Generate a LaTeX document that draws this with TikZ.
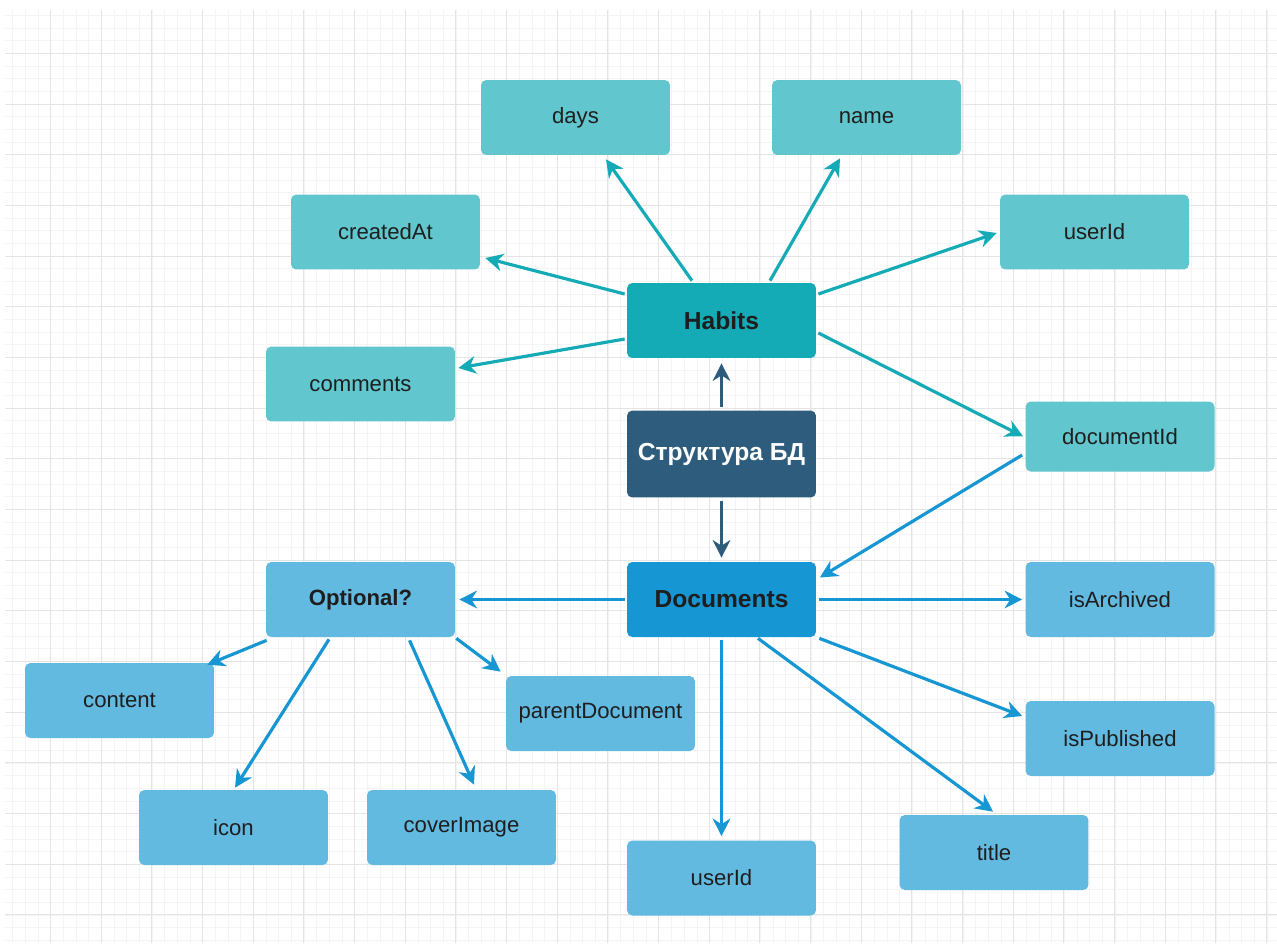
\documentclass[tikz,border=0pt]{standalone}
\usepackage{fontspec}
\setmainfont{Liberation Sans}
\usepackage{xcolor}
\usepackage{tikz}
\usetikzlibrary{calc,arrows.meta}
\definecolor{habteal}{RGB}{20,170,182}
\definecolor{attrteal}{RGB}{98,198,206}
\definecolor{docblue}{RGB}{22,150,210}
\definecolor{attrblue}{RGB}{99,186,225}
\definecolor{rootnavy}{RGB}{46,92,124}
\definecolor{textdark}{RGB}{30,30,30}
\definecolor{gridlight}{RGB}{244,244,244}
\definecolor{gridmid}{RGB}{228,228,228}

\begin{document}
\begin{tikzpicture}[
		x=0.02cm,
		y=-0.02cm,
		font=\fontsize{12.6}{15}\selectfont,
		card/.style={
			rounded corners=3pt,
			draw=none,
			align=center,
			inner sep=0pt,
			minimum width=3.78cm,
			minimum height=1.5cm,
			text=textdark
		},
		habbox/.style={card, fill=habteal, font=\bfseries\fontsize{14}{16}\selectfont},
		habattr/.style={card, fill=attrteal},
		docbox/.style={card, fill=docblue, font=\bfseries\fontsize{14}{16}\selectfont},
		docattr/.style={card, fill=attrblue},
		rootbox/.style={card, fill=rootnavy, text=white, minimum height=1.74cm, font=\bfseries\fontsize{14}{16}\selectfont},
		tip/.style={-{Stealth[length=10pt,width=10pt,inset=3.2pt]}, line width=1.8pt},
		habarrow/.style={tip, draw=habteal},
		docarrow/.style={tip, draw=docblue},
		rootarrow/.style={tip, draw=rootnavy},
		gridminor/.style={draw=gridlight, line width=0.57pt},
		gridmajor/.style={draw=gridmid, line width=0.57pt}
	]
	
	% Canvas
	\fill[white] (0,0) rectangle (1277,943);
	\path[use as bounding box] (0,0) rectangle (1277,943);
	
	% Grid
	\foreach \i in {0,...,99}{
		\draw[gridminor] ({round(12.33+12.67*\i)+0.5},10) -- ({round(12.33+12.67*\i)+0.5},943);
	}
	\foreach \j in {0,...,73}{
		\draw[gridminor] (5,{round(15+12.67*\j)+0.5}) -- (1277,{round(15+12.67*\j)+0.5});
	}
	\foreach \i in {0,...,24}{
		\draw[gridmajor] ({round(50+50.67*\i)+0.5},10) -- ({round(50+50.67*\i)+0.5},943);
	}
	\foreach \j in {0,...,17}{
		\draw[gridmajor] (5,{round(53+50.67*\j)+0.5}) -- (1277,{round(53+50.67*\j)+0.5});
	}
	
	% Root
	\node[rootbox] (root) at (721.5,454) {Структура БД};
	
	% Habits
	\node[habbox] (hab) at (721.5,320.5) {Habits};
	\node[habattr] (days) at (575.5,117.5) {days};
	\node[habattr] (name) at (866.5,117.5) {name};
	\node[habattr] (created) at (385.5,232) {createdAt};
	\node[habattr] (huser) at (1094.5,232) {userId};
	\node[habattr] (comments) at (360.5,384) {comments};
	\node[habattr, minimum height=1.4cm] (docid) at (1120,436.5) {documentId};
	
	% Documents
	\node[docbox] (docs) at (721.5,599.5) {Documents};
	\node[docattr, font=\bfseries\fontsize{12.6}{15}\selectfont] (opt) at (360.5,599.5) {Optional?};
	\node[docattr] (isarch) at (1120,599.5) {isArchived};
	\node[docattr] (ispub) at (1120,738.5) {isPublished};
	\node[docattr] (title) at (994,852.5) {title};
	\node[docattr] (duser) at (721.5,878) {userId};
	\node[docattr] (content) at (119.5,700.5) {content};
	\node[docattr] (parent) at (600.5,713.5) {parentDocument};
	\node[docattr] (icon) at (233.5,827.5) {icon};
	\node[docattr] (cover) at (461.5,827.5) {coverImage};
	
	% Root arrows
	\draw[rootarrow] ($(root.north)+(0,-3)$) -- ($(hab.south)+(0,5)$);
	\draw[rootarrow] ($(root.south)+(0,3)$) -- ($(docs.north)+(0,-4)$);
	
	% Habits arrows
	\draw[habarrow] ($(hab.north)+(-29.5,-2)$) -- ($(days.south)+(30.5,4)$);
	\draw[habarrow] ($(hab.north)+(48.5,-2)$) -- ($(name.south)+(-26.5,3)$);
	\draw[habarrow] ($(hab.west)+(-2,-26.5)$) -- ($(created.east)+(5,26)$);
	\draw[habarrow] ($(hab.east)+(2,-26.5)$) -- ($(huser.west)+(-3,1)$);
	\draw[habarrow] ($(hab.west)+(-2,18.5)$) -- ($(comments.east)+(3,-16)$);
	\draw[habarrow] ($(hab.east)+(2,12.5)$) -- ($(docid.west)+(-2,0)$);
	\draw[docarrow] ($(docid.west)+(-3,18.5)$) -- ($(docs.east)+(3.5,-22)$);
	
	% Documents arrows
	\draw[docarrow] ($(docs.west)+(-2,0)$) -- ($(opt.east)+(4,0)$);
	\draw[docarrow] ($(docs.east)+(3,0)$) -- ($(isarch.west)+(-3,0)$);
	\draw[docarrow] ($(docs.south east)+(3,1)$) -- ($(ispub.west)+(-3,-22.5)$);
	\draw[docarrow] ($(docs.south)+(36.5,1)$) -- ($(title.north)+(-1,-3)$);
	\draw[docarrow] ($(docs.south)+(0,3)$) -- ($(duser.north)+(0,-4)$);
	
	% Optional arrows
	\draw[docarrow] ($(opt.south west)+(1,3)$) -- ($(content.north east)+(-7,2)$);
	\draw[docarrow] ($(opt.south)+(-31.5,2)$) -- ($(icon.north)+(1.5,-2)$);
	\draw[docarrow] ($(opt.south)+(49,3)$) -- ($(cover.north)+(12.5,-5)$);
	\draw[docarrow] ($(opt.south east)+(1,1)$) -- ($(parent.north west)+(-5,-4)$);
	
\end{tikzpicture}
\end{document}
